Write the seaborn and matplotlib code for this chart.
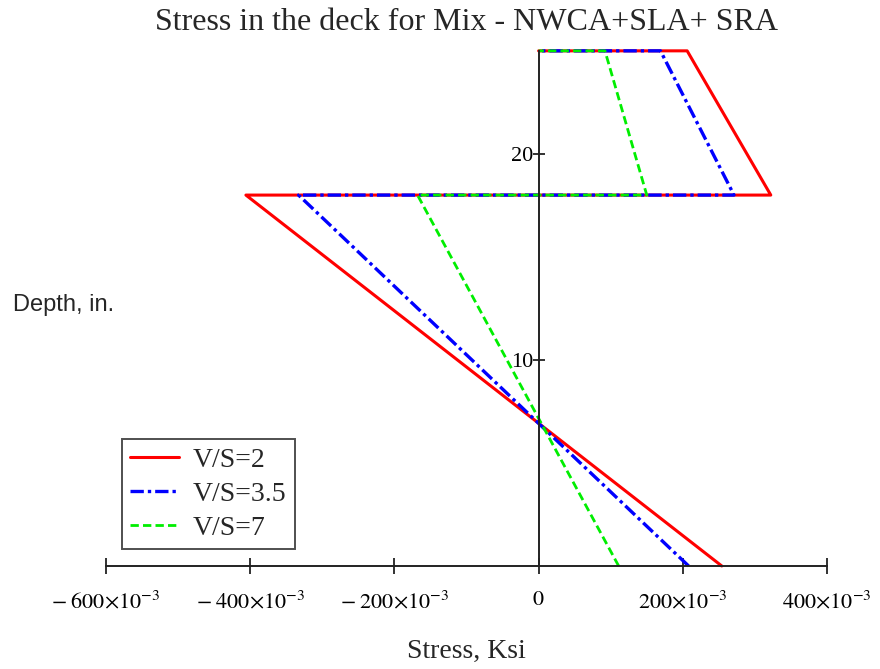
import numpy as np
import pandas as pd
import matplotlib
matplotlib.use("Agg")
import matplotlib.pyplot as plt
import seaborn as sns

# stress profiles (ksi) against depth (in.) for each V/S ratio
depth = [0, 18, 18, 25, 25]
stress_vs2 = [0.254, -0.406, 0.322, 0.206, 0.0]
stress_vs35 = [0.208, -0.333, 0.271, 0.169, 0.0]
stress_vs7 = [0.111, -0.168, 0.150, 0.092, 0.0]
labels = ["V/S=2", "V/S=3.5", "V/S=7"]

x_ticks = [-0.6, -0.4, -0.2, 0.0, 0.2, 0.4]
x_tick_labels = [r"$-\;600{\times}10^{-3}$", r"$-\;400{\times}10^{-3}$", r"$-\;200{\times}10^{-3}$",
                 r"$0$", r"$200{\times}10^{-3}$", r"$400{\times}10^{-3}$"]
y_ticks = [10, 20]

sns.set_style("white")
plt.rcParams['font.family'] = ['Liberation Serif', 'DejaVu Serif']
plt.rcParams['mathtext.fontset'] = 'stix'

fig = plt.figure(figsize=(8.8, 6.69), dpi=100)
ax = fig.add_axes([0.1205, 0.154, 0.8193, 0.770])

styles = [
    dict(color="#ff0000", linestyle="-", linewidth=2.2),
    dict(color="#0000ff", linestyle=(0, (4, 1.2, 1, 1.2)), linewidth=2.4),
    dict(color="#00ee00", linestyle=(0, (3, 1.5)), linewidth=2.0),
]
for stress, lab, st in zip([stress_vs2, stress_vs35, stress_vs7], labels, styles):
    sns.lineplot(x=stress, y=depth, sort=False, estimator=None, ax=ax, label=lab,
                 clip_on=False, **st)

ax.set_xlim(-0.6, 0.4)
ax.set_ylim(0, 25)
for s in ["top", "right"]:
    ax.spines[s].set_visible(False)
ax.spines["left"].set_position(("data", 0))
ax.spines["bottom"].set_position(("data", 0))
for s in ["left", "bottom"]:
    ax.spines[s].set_color("#222222")
    ax.spines[s].set_linewidth(1.4)

ax.set_xticks(x_ticks)
ax.set_xticklabels(x_tick_labels, fontsize=16)
ax.set_yticks(y_ticks)
ax.set_yticklabels([str(t) for t in y_ticks], fontsize=16)
ax.tick_params(axis="x", bottom=True, direction="inout", length=12, width=1.3, pad=12, colors="#222222")
ax.tick_params(axis="y", left=True, direction="inout", length=8, width=1.3, pad=0, colors="#222222")
for t in ax.get_xticklabels() + ax.get_yticklabels():
    t.set_color("black")
ax.set_xlabel("")
ax.set_ylabel("")

leg = ax.legend(loc="lower left", bbox_to_anchor=(0.022, 0.033), fontsize=20, frameon=True,
                fancybox=False, edgecolor="#222222", handlelength=1.75, borderpad=0.3,
                labelspacing=0.3, handletextpad=0.5, borderaxespad=0)
leg.get_frame().set_linewidth(1.4)

fig.text(466 / 880, 1 - 22 / 669, "Stress in the deck for Mix - NWCA+SLA+ SRA",
         ha="center", va="center", fontsize=23)
fig.text(466 / 880, 1 - 651 / 669, "Stress, Ksi", ha="center", va="center", fontsize=20)
fig.text(64 / 880, 1 - 305 / 669, "Depth, in.", ha="center", va="center", fontsize=17,
         family=["Liberation Sans", "DejaVu Sans"])

fig.savefig("out.png", dpi=100)
